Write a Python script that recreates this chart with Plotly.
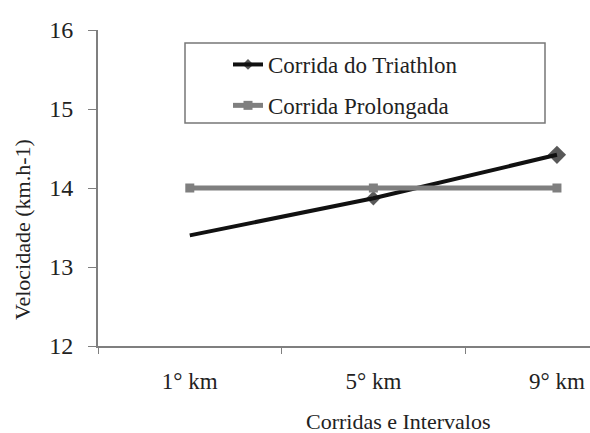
import plotly.graph_objects as go

categories = ["1° km", "5° km", "9° km"]
triathlon = [13.40, 13.87, 14.42]
prolongada = [14.0, 14.0, 14.0]
y_ticks = [12, 13, 14, 15, 16]

font_family = "Liberation Serif, Times New Roman, serif"
txt = "#222222"

fig = go.Figure()
fig.add_trace(go.Scatter(
    x=categories, y=triathlon, name="Corrida do Triathlon",
    mode="lines+markers", legendgroup="a",
    line=dict(color="#111111", width=4),
    marker=dict(symbol="diamond", size=[0, 11, 14], color="#111111",
                line=dict(width=0)),
))
fig.add_trace(go.Scatter(
    x=categories, y=prolongada, name="Corrida Prolongada",
    mode="lines+markers", legendgroup="b",
    line=dict(color="#7f7f7f", width=5),
    marker=dict(symbol="square", size=9, color="#7f7f7f"),
))

L, T, W, H = 98, 30, 492, 316

def px(x):
    return (x - L) / W

def py(y):
    return (T + H - y) / H

fig.update_layout(
    width=590, height=433,
    margin=dict(l=L, r=0, t=T, b=433 - T - H, autoexpand=False),
    paper_bgcolor="white", plot_bgcolor="white",
    font=dict(family=font_family, color=txt),
    showlegend=True,
    legend=dict(
        x=px(228), y=py(43), xanchor="left", yanchor="top",
        bgcolor="rgba(0,0,0,0)", borderwidth=0,
        font=dict(size=23, family=font_family, color=txt),
        tracegroupgap=8, itemwidth=30,
    ),
    shapes=[dict(
        type="rect", xref="paper", yref="paper",
        x0=px(185), x1=px(545), y0=py(123), y1=py(43),
        line=dict(color="#777777", width=1.5), fillcolor="rgba(0,0,0,0)",
        layer="below",
    )],
    xaxis=dict(
        type="category", range=[-0.5, 2.18], automargin=False,
        showline=True, linecolor="#7f7f7f", linewidth=2,
        ticks="outside", ticklen=6, tickcolor="#7f7f7f",
        tickson="boundaries", showgrid=False, zeroline=False,
        ticklabelstandoff=13,
        tickfont=dict(size=23, family=font_family, color=txt),
    ),
    yaxis=dict(
        range=[12, 16], tickvals=y_ticks, automargin=False,
        showline=True, linecolor="#7f7f7f", linewidth=2,
        ticks="outside", ticklen=8, tickcolor="#7f7f7f",
        showgrid=False, zeroline=False, ticklabelstandoff=10,
        tickfont=dict(size=24, family=font_family, color=txt),
    ),
    annotations=[
        dict(
            text="Corridas e Intervalos", xref="paper", yref="paper",
            x=px(398), y=py(421), xanchor="center", yanchor="middle",
            showarrow=False, font=dict(size=22, family=font_family, color=txt),
        ),
        dict(
            text="Velocidade (km.h-1)", xref="paper", yref="paper",
            x=px(22), y=py(230), xanchor="center", yanchor="middle",
            textangle=-90, showarrow=False,
            font=dict(size=22, family=font_family, color=txt),
        ),
    ],
)

fig.write_html(
    "out.html",
    config={"displayModeBar": False},
    post_script="document.body.style.margin='0';document.body.style.padding='0';",
)
